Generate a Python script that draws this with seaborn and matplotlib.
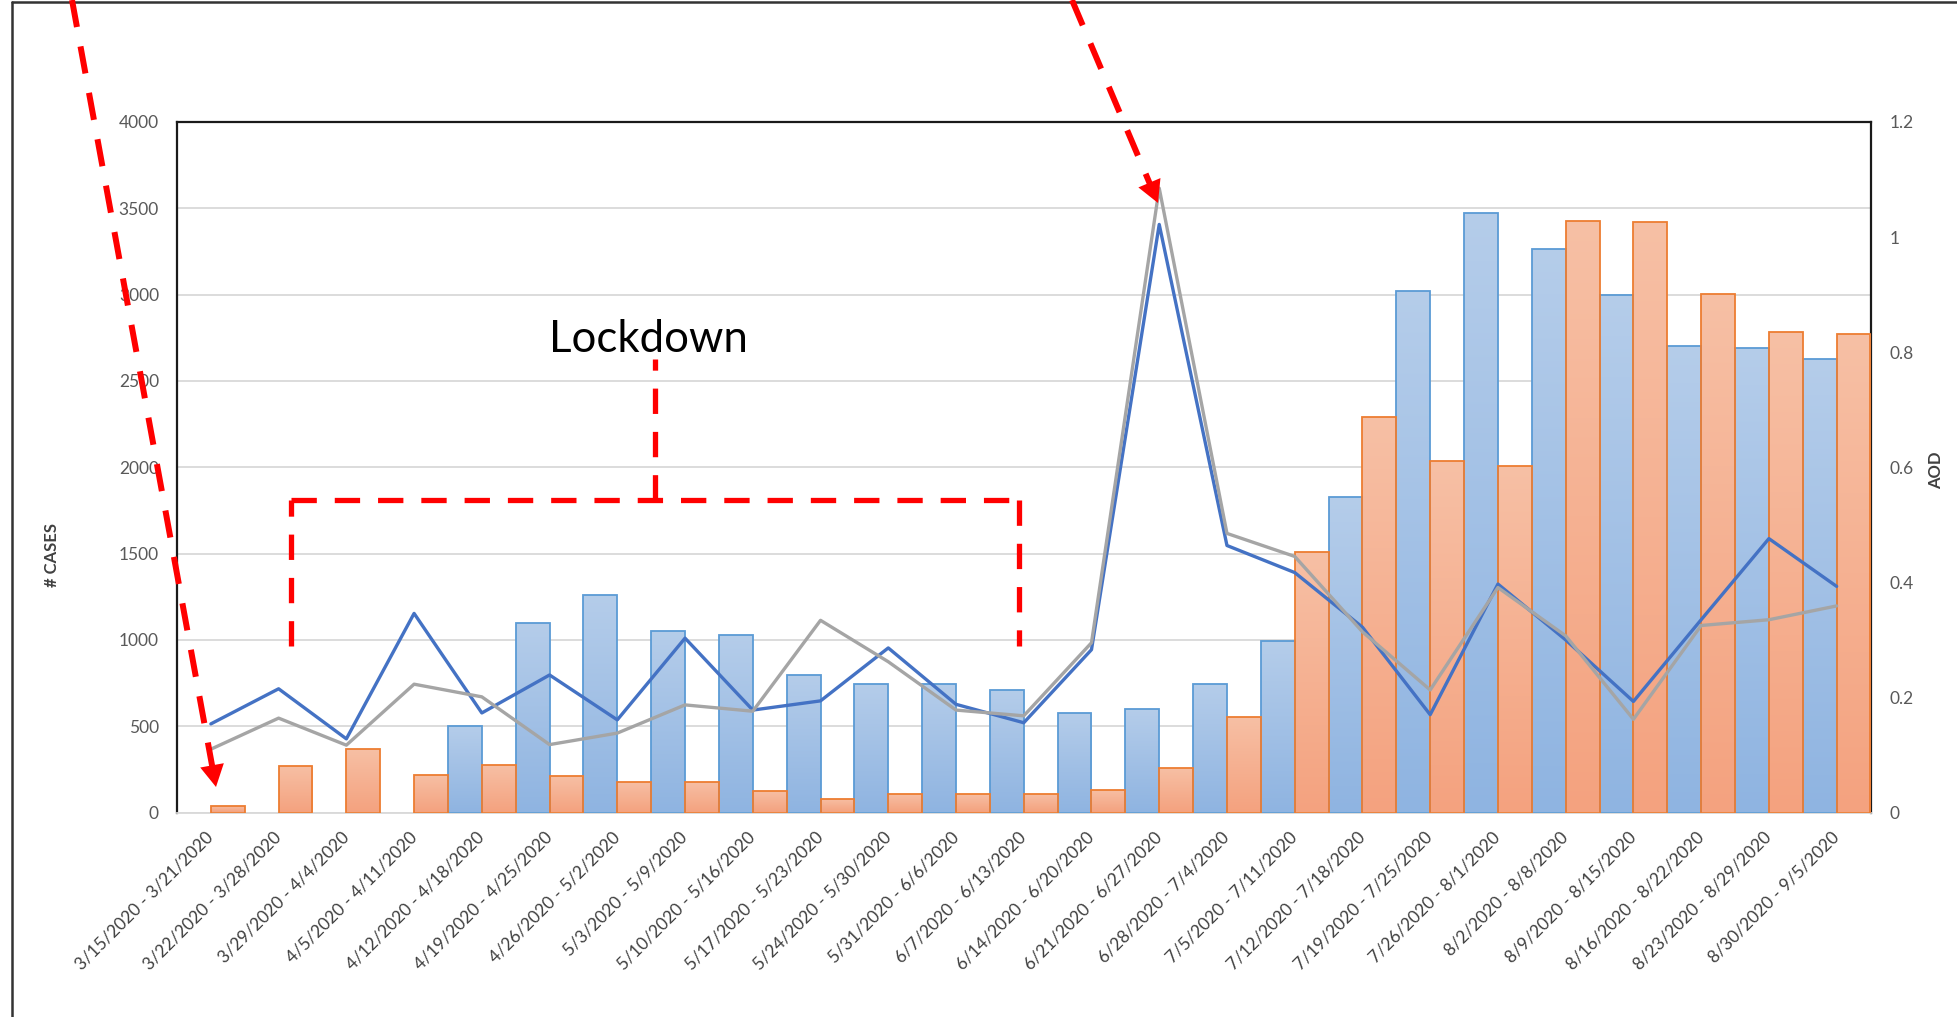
import numpy as np
import pandas as pd
import matplotlib.pyplot as plt
import seaborn as sns
from matplotlib.lines import Line2D
from matplotlib.patches import Polygon
from matplotlib.colors import LinearSegmentedColormap

# weekly windows
weeks = ['3/15/2020 - 3/21/2020', '3/22/2020 - 3/28/2020', '3/29/2020 - 4/4/2020',
         '4/5/2020 - 4/11/2020', '4/12/2020 - 4/18/2020', '4/19/2020 - 4/25/2020',
         '4/26/2020 - 5/2/2020', '5/3/2020 - 5/9/2020', '5/10/2020 - 5/16/2020',
         '5/17/2020 - 5/23/2020', '5/24/2020 - 5/30/2020', '5/31/2020 - 6/6/2020',
         '6/7/2020 - 6/13/2020', '6/14/2020 - 6/20/2020', '6/21/2020 - 6/27/2020',
         '6/28/2020 - 7/4/2020', '7/5/2020 - 7/11/2020', '7/12/2020 - 7/18/2020',
         '7/19/2020 - 7/25/2020', '7/26/2020 - 8/1/2020', '8/2/2020 - 8/8/2020',
         '8/9/2020 - 8/15/2020', '8/16/2020 - 8/22/2020', '8/23/2020 - 8/29/2020',
         '8/30/2020 - 9/5/2020']

# # cases (left axis)
cases_blue = [np.nan, np.nan, np.nan, np.nan, 500, 1100, 1260, 1050, 1030, 795,
              745, 745, 710, 575, 600, 745, 995, 1830, 3020, 3475,
              3265, 3000, 2705, 2690, 2625]
cases_orange = [40, 270, 370, 215, 275, 210, 175, 175, 125, 80,
                105, 105, 105, 130, 255, 555, 1510, 2290, 2035, 2005,
                3425, 3420, 3005, 2785, 2770]

# AOD (right axis)
aod_blue = [0.154, 0.215, 0.128, 0.346, 0.173, 0.239, 0.161, 0.303, 0.178, 0.194,
            0.286, 0.188, 0.156, 0.283, 1.022, 0.464, 0.417, 0.322, 0.170, 0.397,
            0.300, 0.193, 0.335, 0.476, 0.393]
aod_gray = [0.110, 0.164, 0.117, 0.223, 0.201, 0.118, 0.138, 0.187, 0.176, 0.334,
            0.262, 0.178, 0.168, 0.295, 1.085, 0.485, 0.445, 0.314, 0.213, 0.391,
            0.307, 0.162, 0.325, 0.335, 0.359]

sns.set_style('white')
plt.rcParams['font.family'] = ['Lato', 'DejaVu Sans']

W, H = 1957, 1017


def px(x, y):
    # pixel position in the picture -> figure fraction
    return x / W, 1 - y / H


df = pd.DataFrame({
    'week': weeks * 2,
    'cases': cases_blue + cases_orange,
    'series': ['blue'] * len(weeks) + ['orange'] * len(weeks),
})

fig = plt.figure(figsize=(W / 100, H / 100), dpi=100)
ax = fig.add_axes([177 / W, 1 - 812.5 / H, (1870.5 - 177) / W, (812.5 - 122) / H])

pal = {'blue': '#9DBDE4', 'orange': '#F5AF8F'}
sns.barplot(data=df, x='week', y='cases', hue='series', order=weeks,
            hue_order=['blue', 'orange'], palette=pal, width=1.0, gap=0,
            errorbar=None, legend=False, saturation=1, ax=ax)

# Excel-like gradient fill on every bar
grad = np.linspace(0, 1, 256).reshape(-1, 1)
cmaps = {
    'blue': LinearSegmentedColormap.from_list('b', ['#8FB4E1', '#B5CDEA']),
    'orange': LinearSegmentedColormap.from_list('o', ['#F4A27F', '#F7C0A5']),
}
edges = {'blue': '#5B9BD5', 'orange': '#ED7D31'}
for p in list(ax.patches):
    h = p.get_height()
    if not np.isfinite(h) or h <= 0:
        continue
    fc = p.get_facecolor()
    key = 'blue' if fc[2] > fc[0] else 'orange'
    x0, w = p.get_x(), p.get_width()
    im = ax.imshow(grad, extent=[x0, x0 + w, 0, h], origin='lower', aspect='auto',
                   cmap=cmaps[key], zorder=1.5)
    im.set_clip_path(p)
    p.set_facecolor('none')
    p.set_edgecolor(edges[key])
    p.set_linewidth(1.3)
    p.set_zorder(1.6)

ax.set_xlim(-0.5, len(weeks) - 0.5)
ax.set_ylim(0, 4000)
ax.set_yticks(np.arange(0, 4001, 500))
ax.set_xlabel('')
ax.set_ylabel('')
ax.set_axisbelow(True)
ax.grid(axis='y', color='#D9D9D9', lw=1.3)
ax.grid(axis='x', visible=False)
for side in ['left', 'top', 'right']:
    ax.spines[side].set_color('#1a1a1a')
    ax.spines[side].set_linewidth(1.6)
ax.spines['bottom'].set_color('#D9D9D9')
ax.spines['bottom'].set_linewidth(1.3)
for sp in ax.spines.values():
    sp.set_zorder(0.8)
ax.tick_params(axis='y', length=0, pad=13, labelsize=12.5, labelcolor='#595959')
ax.tick_params(axis='x', length=0, pad=16, labelsize=12.5, labelcolor='#404040')
plt.setp(ax.get_xticklabels(), rotation=45, ha='right', va='center', rotation_mode='anchor')

# AOD lines on the secondary axis
ax2 = ax.twinx()
idx = np.arange(len(weeks))
sns.lineplot(x=idx, y=aod_blue, ax=ax2, color='#4472C4', lw=2.4, sort=False)
sns.lineplot(x=idx, y=aod_gray, ax=ax2, color='#A5A5A5', lw=2.4, sort=False)
ax2.set_ylim(0, 1.2)
ax2.set_yticks([0, 0.2, 0.4, 0.6, 0.8, 1.0, 1.2])
ax2.set_yticklabels(['0', '0.2', '0.4', '0.6', '0.8', '1', '1.2'])
ax2.tick_params(axis='y', length=0, pad=14, labelsize=12.5, labelcolor='#595959')
for sp in ax2.spines.values():
    sp.set_visible(False)
ax2.set_xlim(-0.5, len(weeks) - 0.5)

fig.text(*px(52, 555), '# CASES', rotation=90, ha='center', va='center',
         fontsize=12, fontweight='bold', color='#404040')
fig.text(*px(1936, 470), 'AOD', rotation=90, ha='center', va='center',
         fontsize=12, fontweight='bold', color='#404040')

# outer frame of the screenshot
fig.add_artist(Line2D(*zip(px(12, 2), px(W, 2)), color='#333333', lw=1.8))
fig.add_artist(Line2D(*zip(px(12, 2), px(12, H)), color='#333333', lw=1.8))

RED = '#FF0000'


def dashed(p0, p1, lw=3.8, dash=(4.8, 3.4)):
    (x0, y0), (x1, y1) = px(*p0), px(*p1)
    fig.add_artist(Line2D([x0, x1], [y0, y1], color=RED, lw=lw,
                          linestyle=(0, dash), solid_capstyle='butt', dash_capstyle='butt'))


def arrow(start, tip, head_len=22, head_half=12):
    s, t = np.array(start, float), np.array(tip, float)
    u = (t - s) / np.linalg.norm(t - s)
    n = np.array([u[1], -u[0]])
    base = t - head_len * u
    dashed(start, base + 2 * u, lw=4.3, dash=(4.6, 3.3))
    pts = [px(*t), px(*(base + head_half * n)), px(*(base - head_half * n))]
    fig.add_artist(Polygon(pts, closed=True, color=RED, lw=0))


arrow((72, 0), (216, 787))
arrow((1072, 0), (1158, 203))

# lockdown bracket
dashed((291, 646), (291, 500))
dashed((291, 500), (1019, 500))
dashed((1019, 500), (1019, 646))
dashed((655, 500), (655, 359))
fig.text(*px(648, 352), 'Lockdown', ha='center', va='baseline', fontsize=31.5, color='black')

fig.savefig('out.png', dpi=100)
